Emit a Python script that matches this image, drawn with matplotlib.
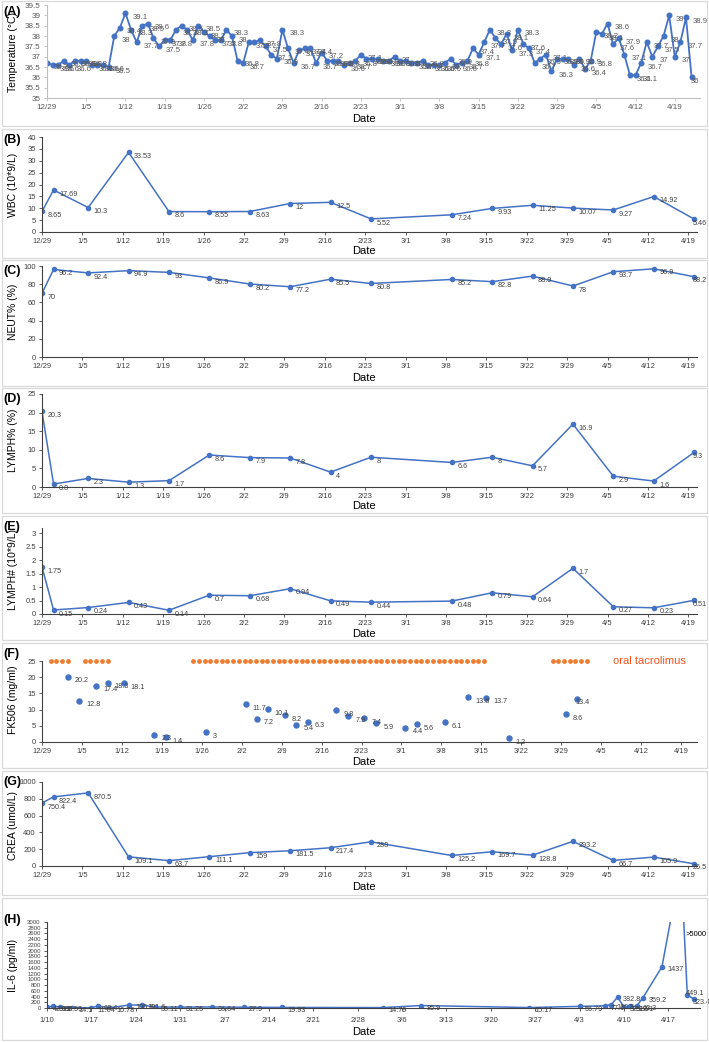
import numpy as np
import pandas as pd
import matplotlib
matplotlib.use("Agg")
import matplotlib.pyplot as plt
from matplotlib.patches import Rectangle

plt.rcParams['font.family'] = ['Liberation Sans', 'DejaVu Sans']
NARROW = ['Liberation Sans Narrow', 'Liberation Sans', 'DejaVu Sans']

# ---------------- data ----------------
start = pd.Timestamp('2019-12-29')
week_labels = ['12/29', '1/5', '1/12', '1/19', '1/26', '2/2', '2/9', '2/16', '2/23',
               '3/1', '3/8', '3/15', '3/22', '3/29', '4/5', '4/12', '4/19']

# (A) daily body temperature from 12/29
temp = [36.7, 36.6, 36.6, 36.8, 36.6, 36.8, 36.8, 36.8, 36.6, 36.6,
        36.6, 36.5, 38.0, 38.4, 39.1, 38.3, 37.7, 38.5, 38.6, 37.9,
        37.5, 37.8, 37.8, 38.3, 38.5, 38.3, 37.8, 38.5, 38.2, 38.0,
        37.8, 37.8, 38.3, 38.0, 36.8, 36.7, 37.7, 37.7, 37.8, 37.5,
        37.1, 36.9, 38.3, 37.4, 36.7, 37.3, 37.4, 37.4, 36.7, 37.2,
        36.8, 36.8, 36.8, 36.6, 36.7, 36.8, 37.1, 36.9, 36.9, 36.9,
        36.8, 36.8, 37.0, 36.8, 36.8, 36.7, 36.7, 36.8, 36.6, 36.6,
        36.6, 36.7, 36.9, 36.6, 36.7, 36.8, 37.4, 37.1, 37.7, 38.3,
        37.9, 37.6, 38.1, 37.3, 38.3, 37.6, 37.4, 36.7, 36.9, 37.1,
        36.3, 36.9, 36.9, 36.9, 36.6, 36.9, 36.4, 36.8, 38.2, 38.1,
        38.6, 37.6, 37.9, 37.1, 36.1, 36.1, 36.7, 37.7, 37.0, 37.5,
        38.0, 39.0, 37.0, 37.7, 38.9, 36.0]

# (B)-(E), (G) weekly labs
lab_dates = ['2019-12-29', '2019-12-31', '2020-01-06', '2020-01-13', '2020-01-20',
             '2020-01-27', '2020-02-03', '2020-02-10', '2020-02-17', '2020-02-24',
             '2020-03-09', '2020-03-16', '2020-03-23', '2020-03-30', '2020-04-06',
             '2020-04-13', '2020-04-20']
wbc = [8.65, 17.69, 10.3, 33.53, 8.6, 8.55, 8.63, 12, 12.5, 5.52,
       7.24, 9.93, 11.25, 10.07, 9.27, 14.92, 5.46]
neut = [70, 96.2, 92.4, 94.9, 93, 86.9, 80.2, 77.2, 85.5, 80.8,
        85.2, 82.8, 88.9, 78, 93.7, 96.9, 88.2]
lymph_pct = [20.3, 0.8, 2.3, 1.3, 1.7, 8.6, 7.9, 7.8, 4, 8,
             6.6, 8, 5.7, 16.9, 2.9, 1.6, 9.3]
lymph_abs = [1.75, 0.15, 0.24, 0.43, 0.14, 0.7, 0.68, 0.94, 0.49, 0.44,
             0.48, 0.79, 0.64, 1.7, 0.27, 0.23, 0.51]
crea = [750.4, 822.4, 870.5, 109.1, 63.7, 111.1, 159, 181.5, 217.4, 288,
        125.2, 169.7, 128.8, 293.2, 66.7, 105.9, 26.5]

# (F) FK506 trough levels, days after 12/29
fk506_day = [4.5, 6.5, 9.5, 11.5, 14.3, 19.7, 21.7, 28.7, 35.7, 37.7, 39.6, 42.6, 44.6,
             46.6, 51.6, 53.7, 56.5, 58.6, 63.7, 65.7, 70.6, 74.7, 77.9, 81.8, 91.8, 93.8]
fk506 = [20.2, 12.8, 17.4, 18.3, 18.1, 2.3, 1.4, 3, 11.7, 7.2, 10.1, 8.2, 5.4,
         6.3, 9.8, 7.9, 7.4, 5.9, 4.4, 5.6, 6.1, 13.8, 13.7, 1.2, 8.6, 13.4]
tac_start = [1.5, 7.5, 26.5, 89.5]   # oral tacrolimus periods (first day)
tac_days = [4, 5, 52, 7]             # number of days

# (H) IL-6, days after 1/10
h_week_labels = ['1/10', '1/17', '1/24', '1/31', '2/7', '2/14', '2/21', '2/28',
                 '3/6', '3/13', '3/20', '3/27', '4/3', '4/10', '4/17']
il6_day = [0, 1, 2, 4, 7, 8, 10, 13, 15, 17, 21, 26, 31, 37, 53, 59, 76, 84,
           88, 89, 90, 91, 92, 93, 94, 97, 100, 101, 102]
il6 = [42.09, 61.2, 35.59, 14.1, 11.04, 68.4, 10.78, 106.8, 101.6, 35.11, 31.25,
       36.64, 27.9, 19.93, 14.79, 85.9, 15.17, 56.79, 77.6, 120.5, 382.8, 32.12,
       52.91, 62.3, 359.2, 1437, 5000, 449.1, 323.4]
il6_text = [f'{v:g}' for v in il6]
il6_text[il6.index(5000)] = '>5000'

# ---------------- layout helpers ----------------
W, H = 709, 1042
BLUE = '#4472C4'
ORANGE = '#ED7D31'
fig = plt.figure(figsize=(W / 100, H / 100), dpi=100)


def px_axes(x0, y0, x1, y1):
    return fig.add_axes([x0 / W, 1 - y1 / H, (x1 - x0) / W, (y1 - y0) / H])


def px_text(x, y, s, **kw):
    fig.text(x / W, 1 - y / H, s, **kw)


def frame(y0, y1, tag, ylabel, ylab_y, date_y, tag_dy=11):
    fig.patches.append(Rectangle((2 / W, 1 - y1 / H), (W - 4) / W, (y1 - y0) / H,
                                 transform=fig.transFigure, fill=False,
                                 edgecolor='#D9D9D9', lw=0.9))
    px_text(3, y0 + tag_dy, tag, fontsize=9, fontweight='bold', va='center')
    px_text(13, ylab_y, ylabel, fontsize=7.5, rotation=90, ha='center', va='center')
    px_text(364, date_y, 'Date', fontsize=8, ha='center', va='center')


def style_axes(ax, xlim, ticks, labels, ylim, yticks, narrow=True, spine='#404040'):
    ax.set_xlim(*xlim)
    ax.set_ylim(*ylim)
    ax.set_xticks(ticks)
    ax.set_xticklabels(labels)
    ax.set_yticks(yticks)
    ax.set_yticklabels([f'{v:g}' for v in yticks])
    for s in ['top', 'right']:
        ax.spines[s].set_visible(False)
    for s in ['left', 'bottom']:
        ax.spines[s].set_color(spine)
        ax.spines[s].set_linewidth(0.8)
    ax.tick_params(length=2.5, width=0.6, color=spine, labelsize=5.5,
                   labelcolor='#404040', pad=2)
    for lab in ax.get_xticklabels() + ax.get_yticklabels():
        lab.set_family(NARROW if narrow else ['Liberation Sans', 'DejaVu Sans'])
    ax.patch.set_alpha(0)


def value_labels(ax, x, y, texts=None, size=5.2, dx=4, dy=-3, color='#404040', family=NARROW):
    n = len(x)
    for i, (xi, yi) in enumerate(zip(x, y)):
        t = texts[i] if texts is not None else f'{yi:g}'
        off = (-1, dy) if i == n - 1 else (dx, dy)   # last label sits on its marker
        ax.annotate(t, (xi, yi), xytext=off, textcoords='offset points',
                    fontsize=size, color=color, ha='left', va='center',
                    family=family, annotation_clip=True)


week_ticks = np.arange(0, 7 * len(week_labels), 7)
lab_x = (pd.to_datetime(lab_dates) - start).days.values

# (A) temperature
temp_x = np.arange(len(temp))
frame(1, 126, '(A)', 'Temperature (°C)', 52, 119)
ax = px_axes(47, 5, 700, 98)
ax.plot(temp_x, temp, color=BLUE, lw=1.3, marker='o', ms=3.3)
style_axes(ax, (0, 116.5), week_ticks, week_labels, (35, 39.5),
           np.arange(35, 39.51, 0.5), narrow=False, spine='#BFBFBF')
ax.tick_params(labelcolor='#595959', labelsize=5.8)
value_labels(ax, temp_x, temp, size=5.6, dx=5, dy=-3, color='#595959',
             family=['Liberation Sans', 'DejaVu Sans'])

# line panels B, C, D, E, G
panels = [
    ('(B)', 'WBC (10*9/L)', wbc, (129, 258), (42, 137, 697, 232), (0, 40), np.arange(0, 41, 5), 185, 251),
    ('(C)', 'NEUT% (%)', neut, (260, 386), (42, 266, 697, 357), (0, 100), np.arange(0, 101, 20), 312, 378),
    ('(D)', 'LYMPH% (%)', lymph_pct, (388, 513), (42, 394, 697, 487), (0, 25), np.arange(0, 26, 5), 440, 506),
    ('(E)', 'LYMPH# (10*9/L)', lymph_abs, (516, 640), (42, 528, 697, 614), (0, 3.2), np.arange(0, 3.01, 0.5), 570, 634),
    ('(G)', 'CREA (umol/L)', crea, (771, 895), (42, 782, 697, 866), (0, 1000), np.arange(0, 1001, 200), 825, 887),
]
for tag, ylab, vals, fy, box, ylim, yt, ly, dy in panels:
    frame(fy[0], fy[1], tag, ylab, ly, dy)
    ax = px_axes(*box)
    ax.plot(lab_x, vals, color=BLUE, lw=1.1, marker='o', ms=3)
    style_axes(ax, (0, 113.5), week_ticks, week_labels, ylim, yt)
    value_labels(ax, lab_x, vals)

# (F) FK506
frame(643, 768, '(F)', 'FK506 (mg/ml)', 700, 762)
ax = px_axes(42, 661, 697, 742)
ax.scatter(fk506_day, fk506, s=13, color=BLUE, zorder=3)
tac_x = np.concatenate([np.arange(s, s + n) for s, n in zip(tac_start, tac_days)])
ax.scatter(tac_x, np.full(len(tac_x), 25.0), s=6, color=ORANGE, clip_on=False)
ax.text(100, 25, 'oral tacrolimus', color='#F4511E', fontsize=8, va='center', ha='left')
style_axes(ax, (0, 114.8), week_ticks, week_labels, (0, 25), np.arange(0, 26, 5))
value_labels(ax, fk506_day, fk506, dx=5)

# (H) IL-6
frame(898, 1040, '(H)', 'IL-6 (pg/ml)', 965, 1032, tag_dy=22)
ax = px_axes(47, 922, 700, 1008)
ax.plot(il6_day, il6, color=BLUE, lw=1.1, marker='o', ms=3)
style_axes(ax, (0, 103), np.arange(0, 7 * len(h_week_labels), 7), h_week_labels,
           (0, 3000), np.arange(0, 3001, 200))
ax.tick_params(axis='y', labelsize=4.3)
ax.tick_params(axis='x', pad=4)
n_il6 = len(il6)
for i, (xi, yi) in enumerate(zip(il6_day, il6)):
    if yi > 3000:
        ax.annotate(il6_text[i], (xi, 3000), xytext=(3, -9), textcoords='offset points',
                    fontsize=5.5, color='black', ha='left', va='center')
    else:
        off = (-1, 1) if i == n_il6 - 2 else (-1, -3) if i == n_il6 - 1 else (4, -2)
        ax.annotate(il6_text[i], (xi, yi), xytext=off, textcoords='offset points',
                    fontsize=5.2, color='#404040', ha='left', va='center', family=NARROW)

fig.savefig('out.png', dpi=100)
